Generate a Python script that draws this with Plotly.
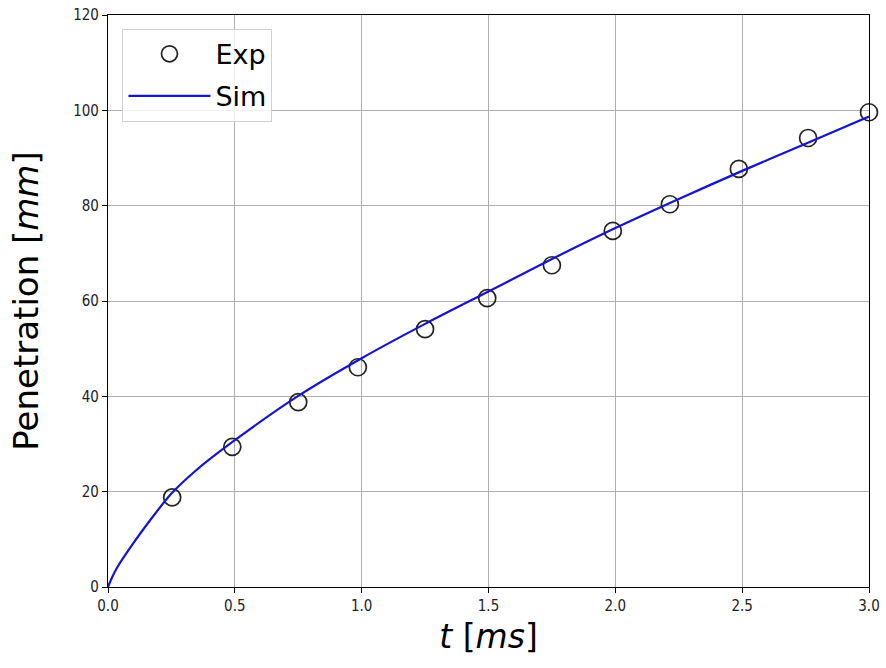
import plotly.graph_objects as go

# Experimental data
exp_t = [0.253, 0.49, 0.75, 0.985, 1.25, 1.495, 1.75, 1.99, 2.215, 2.487, 2.76, 3.0]
exp_p = [18.8, 29.4, 38.8, 46.1, 54.1, 60.6, 67.5, 74.7, 80.3, 87.7, 94.2, 99.6]

# Simulation curve
sim_t = [0.0, 0.015, 0.035, 0.1, 0.166, 0.25, 0.35, 0.5, 0.75, 1.0, 1.25, 1.5, 1.75, 2.0, 2.25, 2.5, 2.75, 3.0]
sim_p = [0.0, 1.9, 4.0, 9.2, 14.0, 19.6, 24.6, 30.8, 40.1, 48.0, 55.2, 62.0, 68.8, 75.3, 81.4, 87.3, 93.0, 98.7]

x_ticks = [0.0, 0.5, 1.0, 1.5, 2.0, 2.5, 3.0]
y_ticks = [0, 20, 40, 60, 80, 100, 120]

font_family = "DejaVu Sans"
tick_family = "DejaVu Sans Condensed, DejaVu Sans"

fig = go.Figure()
fig.add_trace(go.Scatter(
    x=exp_t, y=exp_p, mode="markers", name="Exp", legendgroup="a",
    marker=dict(symbol="circle-open", size=17, color="#222222", line=dict(width=1.7, color="#222222")),
    cliponaxis=False,
))
fig.add_trace(go.Scatter(
    x=sim_t, y=sim_p, mode="lines", name="Sim", legendgroup="b",
    line=dict(color="#1414d2", width=2.2, shape="spline", smoothing=0.8),
))

axis_common = dict(
    showline=True, linecolor="black", linewidth=1.2, mirror=True,
    ticks="outside", ticklen=5, tickwidth=1, tickcolor="black",
    showgrid=True, gridcolor="#b0b0b0", gridwidth=1,
    zeroline=False, automargin=False,
    tickfont=dict(family=tick_family, size=15, color="#222222"),
)

fig.update_layout(
    width=886, height=668,
    margin=dict(l=108, r=17, t=15, b=81),
    paper_bgcolor="white", plot_bgcolor="white",
    font=dict(family=font_family, color="black"),
    showlegend=True,
    legend=dict(
        x=0.019, y=0.976, xanchor="left", yanchor="top",
        bgcolor="rgba(255,255,255,0.8)", bordercolor="#d0d0d0", borderwidth=1,
        font=dict(family=font_family, size=27, color="black"),
        itemwidth=82, traceorder="grouped", tracegroupgap=4,
    ),
    xaxis=dict(
        range=[0, 3.0], tickvals=x_ticks, ticktext=[f"{v:.1f}" for v in x_ticks],
        title=dict(text="<i>t</i> [<i>ms</i>]", font=dict(family=font_family, size=33), standoff=10),
        **axis_common,
    ),
    yaxis=dict(
        range=[0, 120], tickvals=y_ticks, ticktext=[str(v) for v in y_ticks],
        title=dict(text="Penetration [<i>mm</i>]", font=dict(family=font_family, size=34), standoff=24),
        **axis_common,
    ),
)

fig.write_html("out.html")
